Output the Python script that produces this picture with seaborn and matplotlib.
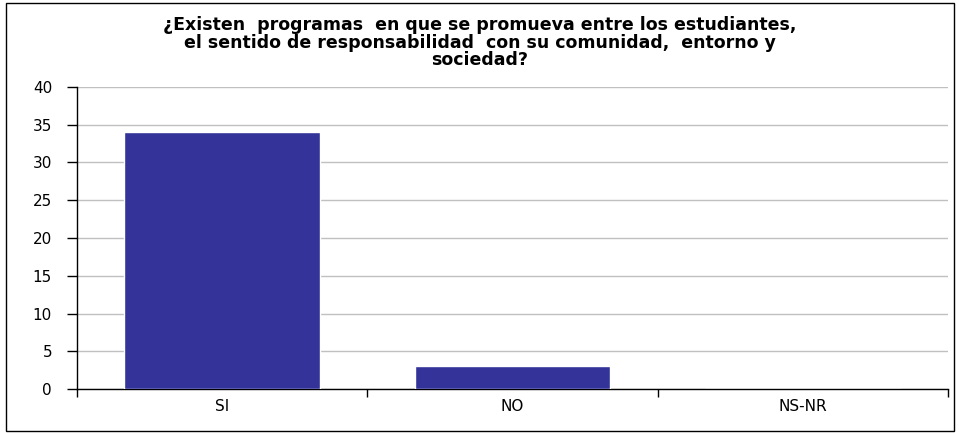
import matplotlib
matplotlib.use("Agg")
import matplotlib.pyplot as plt
import seaborn as sns
import pandas as pd
from matplotlib.patches import Rectangle
from matplotlib.ticker import FixedLocator

categories = ["SI", "NO", "NS-NR"]
values = [34, 3, 0]
y_ticks = [0, 5, 10, 15, 20, 25, 30, 35, 40]
title = ("¿Existen  programas  en que se promueva entre los estudiantes,\n"
         "el sentido de responsabilidad  con su comunidad,  entorno y\n"
         "sociedad?")

sns.set_style("white")
plt.rcParams['font.family'] = ['DejaVu Sans']
plt.rcParams['text.color'] = 'black'
plt.rcParams['xtick.color'] = 'black'
plt.rcParams['ytick.color'] = 'black'

df = pd.DataFrame({"cat": categories, "val": values})

fig = plt.figure(figsize=(9.59, 4.33), dpi=100)
ax = fig.add_axes([77/959, 44/433, (948-77)/959, (389-87)/433])
sns.barplot(data=df, x="cat", y="val", color="#333399", saturation=1,
            width=0.675, ax=ax, zorder=3)

ax.set_xlim(-0.5, 2.5)
ax.set_ylim(0, 40)
ax.set_yticks(y_ticks)
ax.yaxis.grid(True, color="#c0c0c0", linewidth=1, zorder=0)
ax.set_axisbelow(True)
ax.set_xlabel("")
ax.set_ylabel("")
for s in ["top", "right"]:
    ax.spines[s].set_visible(False)
for s in ["left", "bottom"]:
    ax.spines[s].set_color("black")
    ax.spines[s].set_linewidth(1)
ax.tick_params(axis="y", length=7, width=1, color="black", direction="out",
               left=True, labelsize=11, pad=11, labelcolor="black")
ax.tick_params(axis="x", which="major", length=0, labelsize=11, pad=7,
               labelcolor="black")
ax.xaxis.set_minor_locator(FixedLocator([-0.5, 0.5, 1.5, 2.5]))
ax.tick_params(axis="x", which="minor", length=6, width=1, color="black",
               direction="out", bottom=True)

fig.text(0.5, 1 - 16/433, title, ha="center", va="top", fontsize=12.5,
         fontweight="bold", linespacing=0.98, color="black")

fig.patches.append(Rectangle((6/959, 2/433), (954-6)/959, (430-2)/433,
                             transform=fig.transFigure, fill=False,
                             edgecolor="black", linewidth=1))

fig.savefig("out.png", dpi=100)
